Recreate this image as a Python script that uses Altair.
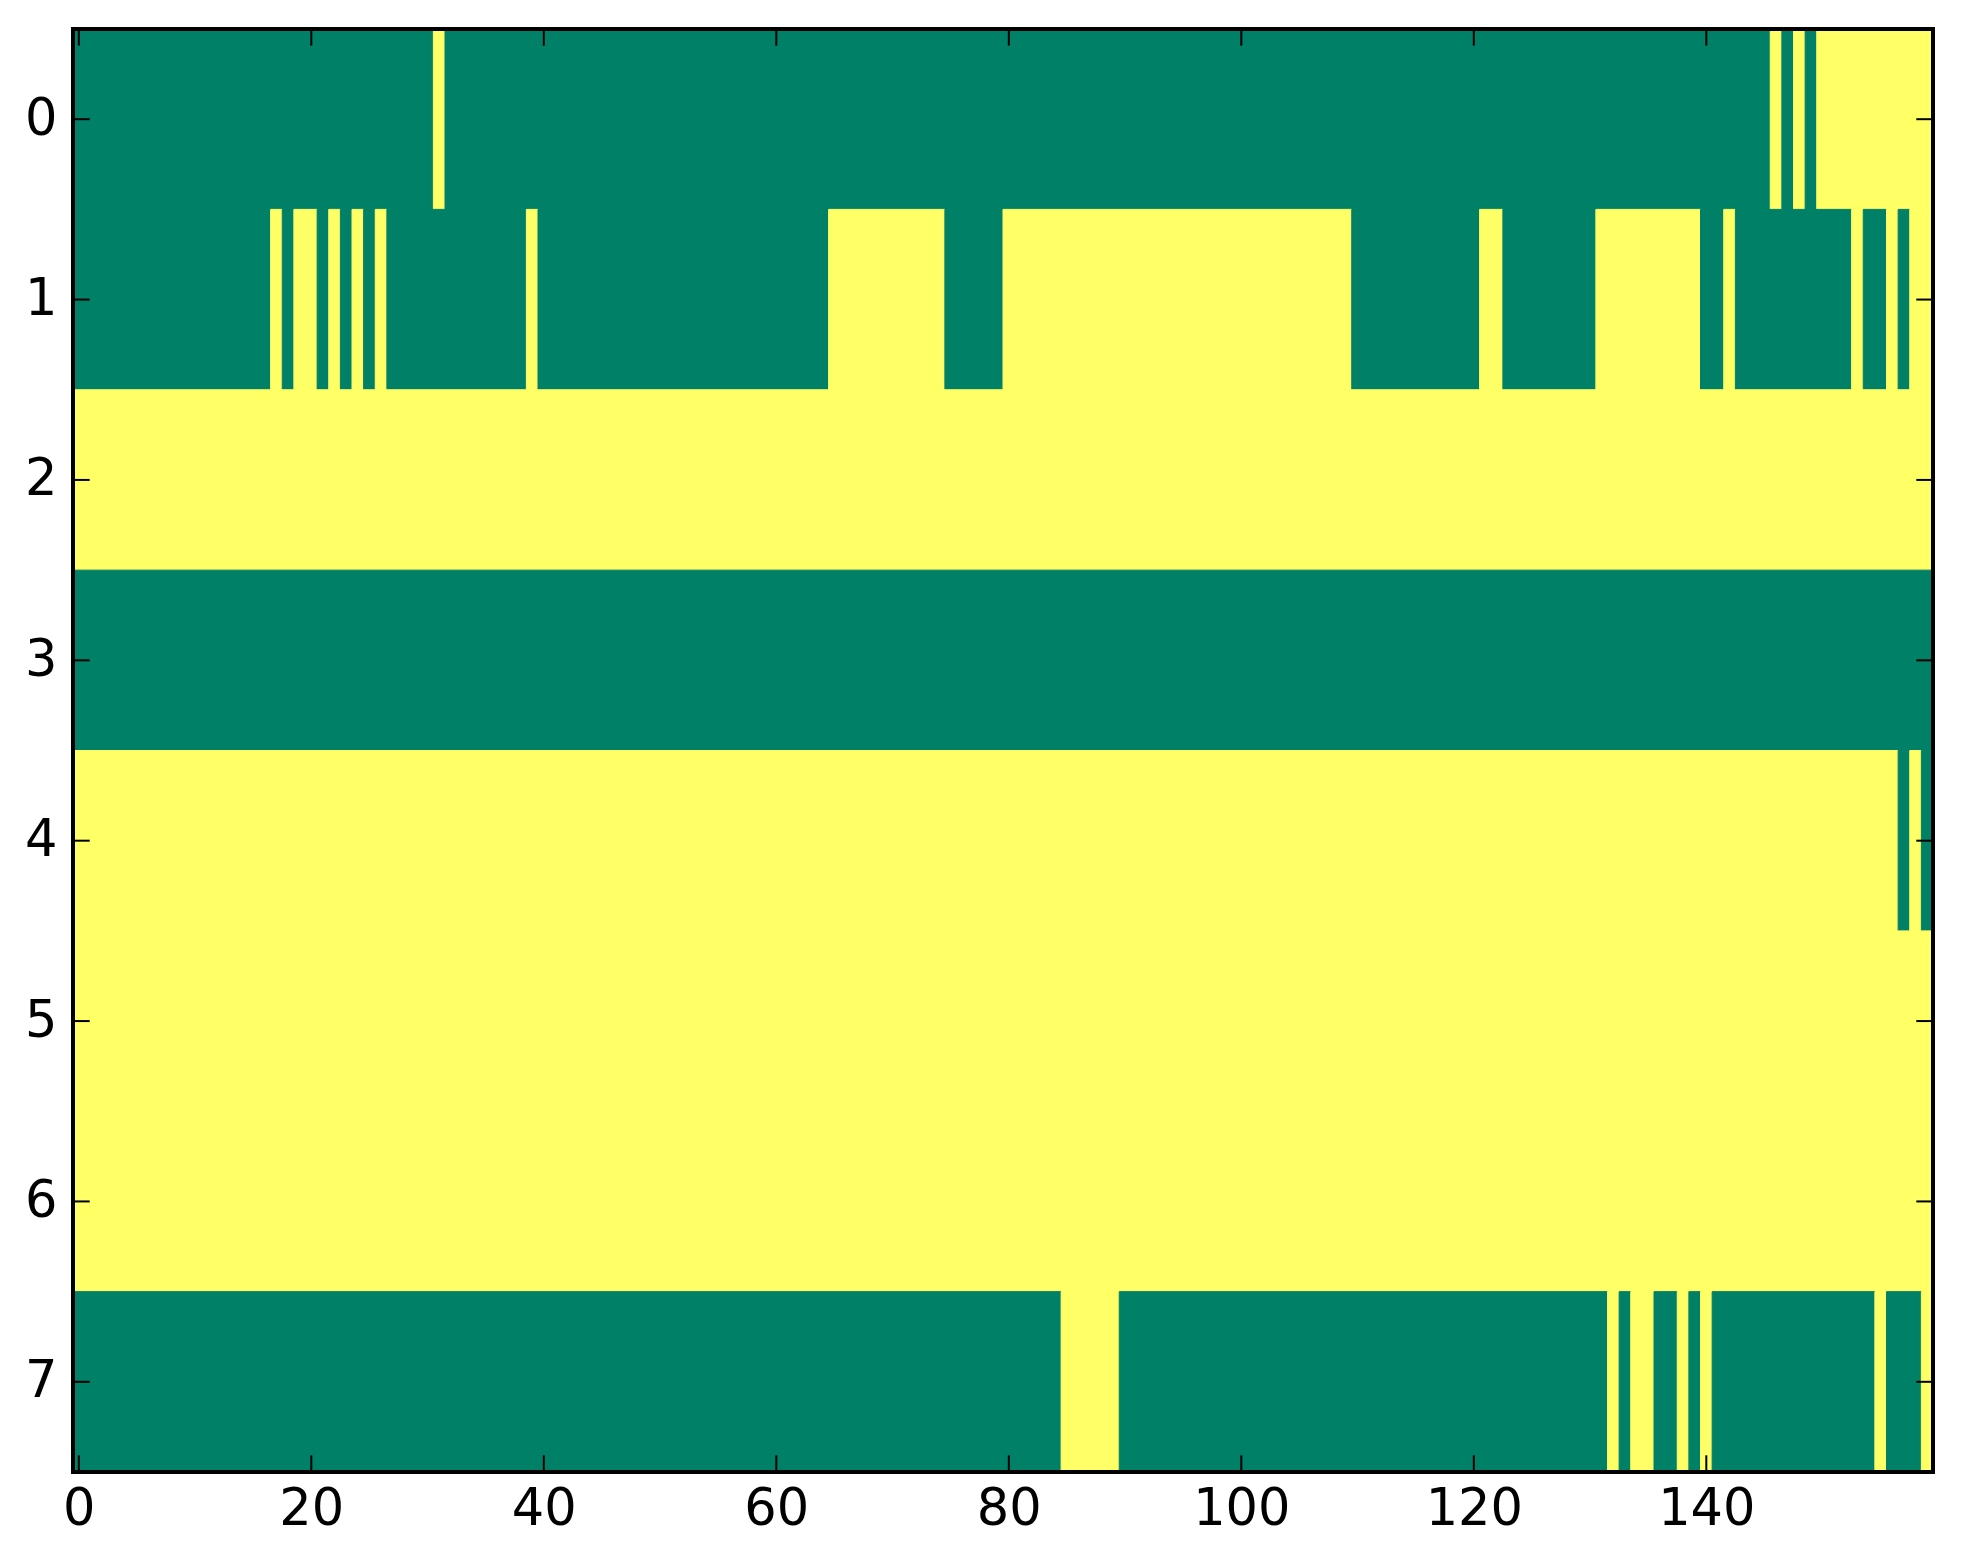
import altair as alt
import pandas as pd

# Binary grid (8 rows x 160 columns); groups of 10 columns
ROW_0 = "0000000000 0000000000 0000000000 0100000000 0000000000 0000000000 0000000000 0000000000 0000000000 0000000000 0000000000 0000000000 0000000000 0000000000 0000001010 1111111111"
ROW_1 = "0000000000 0000000101 1010101000 0000000001 0000000000 0000000000 0000011111 1111100000 1111111111 1111111111 1111111111 0000000000 0110000000 0111111111 0010000000 0001001011"
ROW_2 = "1111111111 1111111111 1111111111 1111111111 1111111111 1111111111 1111111111 1111111111 1111111111 1111111111 1111111111 1111111111 1111111111 1111111111 1111111111 1111111111"
ROW_3 = "0000000000 0000000000 0000000000 0000000000 0000000000 0000000000 0000000000 0000000000 0000000000 0000000000 0000000000 0000000000 0000000000 0000000000 0000000000 0000000000"
ROW_4 = "1111111111 1111111111 1111111111 1111111111 1111111111 1111111111 1111111111 1111111111 1111111111 1111111111 1111111111 1111111111 1111111111 1111111111 1111111111 1111111010"
ROW_5 = "1111111111 1111111111 1111111111 1111111111 1111111111 1111111111 1111111111 1111111111 1111111111 1111111111 1111111111 1111111111 1111111111 1111111111 1111111111 1111111111"
ROW_6 = "1111111111 1111111111 1111111111 1111111111 1111111111 1111111111 1111111111 1111111111 1111111111 1111111111 1111111111 1111111111 1111111111 1111111111 1111111111 1111111111"
ROW_7 = "0000000000 0000000000 0000000000 0000000000 0000000000 0000000000 0000000000 0000000000 0000011111 0000000000 0000000000 0000000000 0000000000 0010110010 1000000000 0000010001"

ROWS = [ROW_0, ROW_1, ROW_2, ROW_3, ROW_4, ROW_5, ROW_6, ROW_7]
X_TICKS = [0, 20, 40, 60, 80, 100, 120, 140]
Y_TICKS = [0, 1, 2, 3, 4, 5, 6, 7]
COLORS = ["#008066", "#ffff66"]  # matplotlib 'summer' at 0 and 1

# Build runs of equal value per row (one rect per run, imshow-style cell edges)
records = []
for r, s in enumerate(ROWS):
    s = s.replace(" ", "")
    assert len(s) == 160, (r, len(s))
    start = 0
    for c in range(1, len(s) + 1):
        if c == len(s) or s[c] != s[start]:
            records.append(dict(x0=start - 0.5, x1=c - 0.5, y0=r - 0.5, y1=r + 0.5, v=int(s[start])))
            start = c
df = pd.DataFrame(records)
df_xt = pd.DataFrame({"x0": X_TICKS})
df_yt = pd.DataFrame({"y0": Y_TICKS})

W, H = 1860, 1443
TICK = 16.7
FONT = "DejaVu Sans"
FS = 51

xs = alt.Scale(domain=[-0.5, 159.5], nice=False, zero=False)
ys = alt.Scale(domain=[-0.5, 7.5], nice=False, zero=False, reverse=True)
cs = alt.Scale(domain=[0, 1], range=COLORS)

ax_x = alt.Axis(values=X_TICKS, title=None, grid=False, ticks=False, domain=False,
                labelFont=FONT, labelFontSize=FS, labelColor="black",
                labelPadding=12, labelFlush=False, labelOverlap=False)
ax_y = alt.Axis(values=Y_TICKS, title=None, grid=False, ticks=False, domain=False,
                labelFont=FONT, labelFontSize=FS, labelColor="black",
                labelPadding=16, labelFlush=False, labelOverlap=False)

cells = alt.Chart(df).mark_rect(strokeWidth=1).encode(
    x=alt.X("x0:Q", scale=xs, axis=ax_x),
    x2="x1:Q",
    y=alt.Y("y0:Q", scale=ys, axis=ax_y),
    y2="y1:Q",
    color=alt.Color("v:N", scale=cs, legend=None),
    stroke=alt.Stroke("v:N", scale=cs, legend=None),
)

bottom_ticks = alt.Chart(df_xt).mark_rule(color="black", strokeWidth=2).encode(
    x=alt.X("x0:Q", scale=xs, axis=ax_x), y=alt.value(H), y2=alt.value(H - TICK))
top_ticks = alt.Chart(df_xt).mark_rule(color="black", strokeWidth=2).encode(
    x=alt.X("x0:Q", scale=xs, axis=ax_x), y=alt.value(0), y2=alt.value(TICK))
left_ticks = alt.Chart(df_yt).mark_rule(color="black", strokeWidth=2).encode(
    y=alt.Y("y0:Q", scale=ys, axis=ax_y), x=alt.value(0), x2=alt.value(TICK))
right_ticks = alt.Chart(df_yt).mark_rule(color="black", strokeWidth=2).encode(
    y=alt.Y("y0:Q", scale=ys, axis=ax_y), x=alt.value(W), x2=alt.value(W - TICK))

# Frame (spines) drawn on top of the image
frame_top = alt.Chart(df_xt).mark_rule(color="black", strokeWidth=4).encode(
    x=alt.value(-2), x2=alt.value(W + 2), y=alt.value(0))
frame_bottom = alt.Chart(df_xt).mark_rule(color="black", strokeWidth=4).encode(
    x=alt.value(-2), x2=alt.value(W + 2), y=alt.value(H))
frame_left = alt.Chart(df_xt).mark_rule(color="black", strokeWidth=4).encode(
    y=alt.value(-2), y2=alt.value(H + 2), x=alt.value(0))
frame_right = alt.Chart(df_xt).mark_rule(color="black", strokeWidth=4).encode(
    y=alt.value(-2), y2=alt.value(H + 2), x=alt.value(W))

chart = alt.layer(cells, bottom_ticks, top_ticks, left_ticks, right_ticks,
                  frame_top, frame_bottom, frame_left, frame_right).properties(
    width=W, height=H,
    autosize=alt.AutoSizeParams(type="none"),
    padding={"left": 65, "top": 21, "right": 20, "bottom": 80},
).configure_view(strokeWidth=0)

chart.save("out.html", embed_options={"renderer": "svg", "actions": False})
